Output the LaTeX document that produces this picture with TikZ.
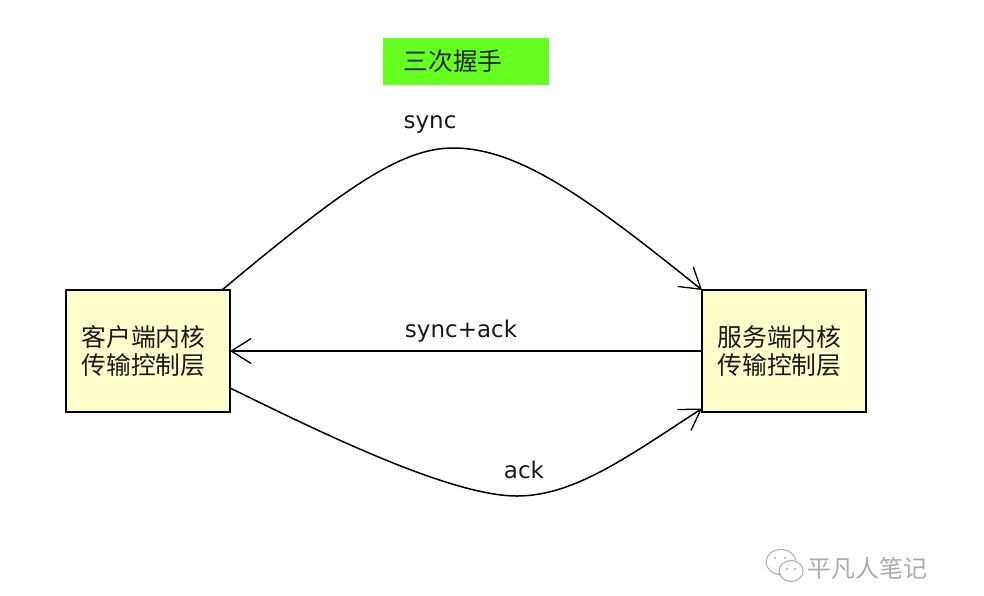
\documentclass[tikz,border=0pt]{standalone}
\usepackage{fontspec}
\setmainfont{DejaVu Sans}
\newfontfamily\cjk{Noto Sans CJK SC}
\usetikzlibrary{arrows.meta,positioning}
\definecolor{boxfill}{HTML}{FFFFCC}
\definecolor{bannerfill}{HTML}{66FF22}
\definecolor{markgray}{HTML}{ABABAB}
\newcommand{\boxindent}{\hspace*{15.5pt}}
\tikzset{
  x=1pt,y=-1pt,
  layerbox/.style={draw=black,line width=1.6pt,fill=boxfill,text width=164pt,minimum height=122pt,inner sep=0pt,align=left,
    font=\cjk\fontsize{24.8}{28}\selectfont,text=black!90},
  link/.style={draw=black,line width=1.5pt,-{Straight Barb[length=20pt,width=25pt,line width=1.3pt]}},
  msg/.style={inner sep=0pt,font=\fontsize{23}{28}\selectfont,text=black!90},
  markline/.style={draw=markgray,line width=1pt},
}
\begin{document}
\begin{tikzpicture}
\useasboundingbox (0,0) rectangle (984,595);
\node[fill=white,minimum width=984pt,minimum height=595pt,inner sep=0pt] (page) at (492,297.5) {};

% title banner
\node[fill=bannerfill,minimum width=166pt,minimum height=47pt,inner sep=0pt] (banner) at (466,61.5) {};
\node[inner sep=0pt,font=\cjk\fontsize{24.7}{30}\selectfont,text=black!85] (title) at (453,61) {三次握手};

% the two endpoints
\node[layerbox] (client) at (148,351) {\boxindent 客户端内核\\\boxindent 传输控制层};
\node[layerbox] (server) at (784,351) {\boxindent 服务端内核\\\boxindent 传输控制层};

% free ends of the curved connectors
\coordinate (synstart) at (222,290);
\coordinate (ackstart) at (230,388);
\coordinate (synend) at (702,290);
\coordinate (ackend) at (702,408.5);
\coordinate (retstart) at (702,351);
\coordinate (retend) at (230,351);

% handshake messages
\draw[link] (synstart) .. controls (342,190) and (400,148) .. (453,148)
            .. controls (520,148) and (590,200) .. (synend);
\draw[link] (retstart) -- (retend);
\draw[link] (ackstart) .. controls (320,432) and (450,496) .. (517,496)
            .. controls (575,496) and (630,455) .. (ackend);

\node[msg] (lsyn) at (430,124) {sync};
\node[msg] (lret) at (461,331) {sync+ack};
\node[msg] (lack) at (524,470) {ack};

% signature mark, lower right
\draw[markline] (781,562) ellipse [x radius=15pt,y radius=12.5pt];
\fill[white] (793,571) ellipse [x radius=13pt,y radius=11pt];
\draw[markline] (791,571) ellipse [x radius=12pt,y radius=10.5pt];
\fill[markgray] (775,558) circle (1.2pt) (785,558) circle (1.2pt)
                (787,569) circle (1.2pt) (795,569) circle (1.2pt);
\node[inner sep=0pt,font=\cjk\fontsize{24}{30}\selectfont,text=markgray] (sig) at (867,568) {平凡人笔记};
\end{tikzpicture}
\end{document}
